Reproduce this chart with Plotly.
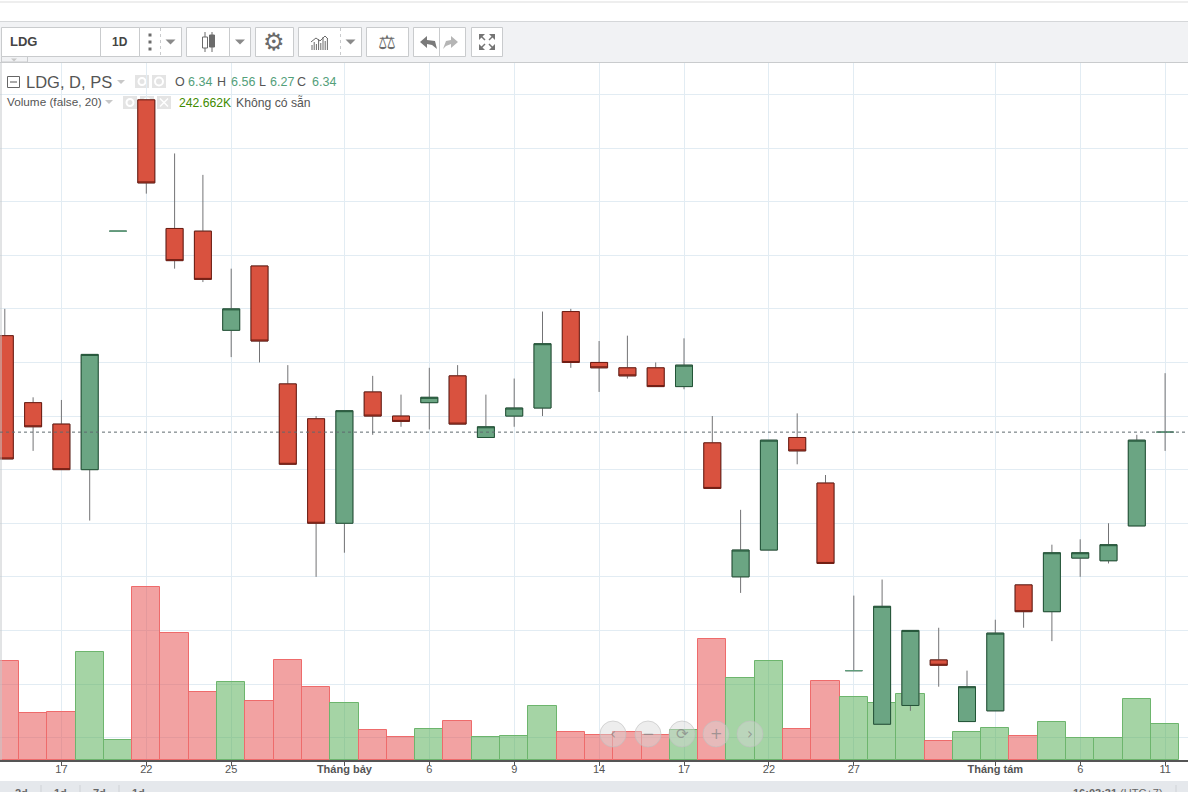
import plotly.graph_objects as go

W, H = 1188, 792

tick_pos = [2, 5, 8, 12, 15, 18, 21, 24, 27, 30, 35, 38, 41]
tick_labels = ["17", "22", "25", "<b>Tháng bảy</b>", "6", "9", "14", "17", "22", "27",
               "<b>Tháng tám</b>", "6", "11"]

opens = [6.70, 6.45, 6.37, 6.20, 7.09, 7.58, 7.10, 7.09, 6.72, 6.96, 6.52, 6.39, 6.00, 6.49,
         6.40, 6.45, 6.55, 6.32, 6.40, 6.43, 6.79, 6.60, 6.58, 6.58, 6.51, 6.30, 5.80, 5.90,
         6.32, 6.15, 5.45, 5.25, 5.32, 5.49, 5.26, 5.30, 5.77, 5.67, 5.87, 5.86, 5.99, 6.34]
highs = [6.80, 6.47, 6.46, 6.63, 7.09, 7.58, 7.38, 7.30, 6.95, 6.96, 6.59, 6.40, 6.42, 6.55,
         6.48, 6.58, 6.59, 6.48, 6.54, 6.79, 6.80, 6.68, 6.70, 6.60, 6.69, 6.40, 6.05, 6.31,
         6.41, 6.18, 5.73, 5.79, 5.60, 5.61, 5.45, 5.64, 5.77, 5.92, 5.94, 6.00, 6.33, 6.56]
lows = [6.24, 6.27, 6.20, 6.01, 7.09, 7.23, 6.95, 6.90, 6.62, 6.60, 6.22, 5.80, 5.89, 6.33,
        6.36, 6.35, 6.37, 6.32, 6.36, 6.40, 6.58, 6.49, 6.54, 6.51, 6.50, 6.13, 5.74, 5.90,
        6.22, 5.85, 5.45, 5.25, 5.30, 5.39, 5.26, 5.30, 5.61, 5.56, 5.80, 5.85, 5.99, 6.27]
closes = [6.24, 6.36, 6.20, 6.63, 7.09, 7.27, 6.98, 6.91, 6.80, 6.68, 6.22, 6.00, 6.42, 6.40,
          6.38, 6.47, 6.37, 6.36, 6.43, 6.67, 6.60, 6.58, 6.55, 6.51, 6.59, 6.13, 5.90, 6.31,
          6.27, 5.85, 5.45, 5.69, 5.60, 5.47, 5.39, 5.59, 5.67, 5.89, 5.89, 5.92, 6.31, 6.34]
volumes_k = [667, 317, 324, 728, 135, 1166, 856, 458, 526, 398, 674, 492, 384, 202, 155, 209,
             263, 155, 162, 364, 189, 169, 189, 169, 202, 816, 553, 667, 209, 532, 425, 384,
             445, 128, 189, 216, 162, 256, 148, 148, 411, 242.662]
sessions = list(range(len(closes)))
last_close = closes[-1]
is_doji = [o == c for o, c in zip(opens, closes)]
real = [i for i in sessions if not is_doji[i]]
doji = [i for i in sessions if is_doji[i]]


def pick(seq, idx):
    return [seq[i] for i in idx]


GRID = "#e2ecf3"
RED, RED_D = "#d9523f", "#6e1c12"
GRN, GRN_D = "#6ba583", "#225437"
UI = "#c9cbcd"
TXT = "#555555"
ICON = "#6b6b6b"
FONT = "Liberation Sans"
STEP = 28.3
LEFT = 4.8

is_up = [c >= o for o, c in zip(opens, closes)]
fig = go.Figure()
fig.add_bar(x=sessions, y=volumes_k, yaxis="y", width=1,
            marker=dict(color=["rgba(76,170,76,0.5)" if u else "rgba(230,70,70,0.5)" for u in is_up],
                        line=dict(color=["#6db56d" if u else "#ee6b6b" for u in is_up], width=1)),
            hoverinfo="skip", showlegend=False)
# wicks
wick = dict(line=dict(color="#737375", width=1), fillcolor="rgba(0,0,0,0)")
fig.add_candlestick(x=sessions, open=opens, high=highs, low=lows, close=closes, yaxis="y2",
                    whiskerwidth=0, showlegend=False, hoverinfo="skip", increasing=wick, decreasing=wick)
# bodies
fig.add_candlestick(x=real, open=pick(opens, real), close=pick(closes, real),
                    high=[max(opens[i], closes[i]) for i in real],
                    low=[min(opens[i], closes[i]) for i in real], yaxis="y2",
                    whiskerwidth=0, showlegend=False, hoverinfo="skip",
                    increasing=dict(line=dict(color=GRN_D, width=1), fillcolor=GRN),
                    decreasing=dict(line=dict(color=RED_D, width=1), fillcolor=RED))
# bodies with open equal to close: a single thin line
flat = dict(line=dict(color="#5f9d7c", width=1), fillcolor=GRN)
fig.add_candlestick(x=doji, open=pick(opens, doji), close=pick(closes, doji), high=pick(closes, doji),
                    low=pick(closes, doji), yaxis="y2", whiskerwidth=0, showlegend=False, hoverinfo="skip",
                    increasing=flat, decreasing=flat)


def X(x):
    return x / W


def Y(y):
    return 1 - y / H


shapes = []
annos = []


def rect(x0, y0, x1, y1, fill="white", line=None, lw=1, layer="above"):
    shapes.append(dict(type="rect", xref="paper", yref="paper", x0=X(x0), x1=X(x1), y0=Y(y0), y1=Y(y1),
                       fillcolor=fill, line=dict(color=line or "rgba(0,0,0,0)", width=lw if line else 0),
                       layer=layer))


def seg(x0, y0, x1, y1, color=UI, lw=1, dash=None, layer="above"):
    shapes.append(dict(type="line", xref="paper", yref="paper", x0=X(x0), x1=X(x1), y0=Y(y0), y1=Y(y1),
                       line=dict(color=color, width=lw, dash=dash or "solid"), layer=layer))


def poly(pts, fill=ICON, close=True, line=None, lw=1):
    d = "M " + " L ".join(f"{X(a):.5f} {Y(b):.5f}" for a, b in pts) + (" Z" if close else "")
    shapes.append(dict(type="path", xref="paper", yref="paper", path=d,
                       fillcolor=fill if close else "rgba(0,0,0,0)",
                       line=dict(color=line or "rgba(0,0,0,0)", width=lw if line else 0)))


def circle(cx, cy, r, fill, line, lw=1, layer="above"):
    shapes.append(dict(type="circle", xref="paper", yref="paper", x0=X(cx - r), x1=X(cx + r),
                       y0=Y(cy + r), y1=Y(cy - r), fillcolor=fill, line=dict(color=line, width=lw),
                       layer=layer))


def text(x, y, s, size=12, color=TXT, anchor="left", family=FONT):
    annos.append(dict(xref="paper", yref="paper", x=X(x - 1 if anchor == "left" else x), y=Y(y), text=s,
                      showarrow=False, xanchor=anchor, yanchor="middle", borderpad=0,
                      font=dict(size=size, color=color, family=family)))


def caret(cx, cy, w=5, h=5, color="#8a8a8a"):
    poly([(cx - w, cy - h / 2), (cx + w, cy - h / 2), (cx, cy + h / 2)], fill=color)


def small_box(a, top, bottom, kind, layer):
    rect(a, top, a + 14, bottom, "#e4e4e4", layer=layer)
    cx, cy = a + 7, (top + bottom) / 2
    if kind == "x":
        seg(cx - 4, cy - 4, cx + 4, cy + 4, "white", 1.5, layer=layer)
        seg(cx - 4, cy + 4, cx + 4, cy - 4, "white", 1.5, layer=layer)
    else:
        circle(cx, cy, 3.5 if kind == "eye" else 4, "rgba(0,0,0,0)", "white", 2, layer=layer)


# --- chrome bands
seg(0, 2, W, 2, "#dddddd")
rect(0, 22, W, 62, "#f1f2f4", layer="below")
seg(0, 21.5, W, 21.5, "#d5d7d9")
seg(0, 62.5, W, 62.5, UI)
rect(0, 781, W, H, "#e5e8ec", layer="below")
seg(1, 63, 1, 760, "#c5c8cb")

# --- toolbar buttons
for a, b in [(1, 100), (100, 139), (139, 181), (186, 229), (229, 250), (255, 293), (298, 361), (366, 408),
             (413, 439), (439, 465), (471, 502)]:
    rect(a + .5, 27.5, b + .5, 56.5, "white", UI)
seg(160.5, 28, 160.5, 56, UI, 1, "dot")
seg(340.5, 28, 340.5, 56, UI, 1, "dot")
rect(1.5, 56.5, 27.5, 62, "#f1f2f4", UI)
caret(14, 60, 3, 3, "#c8c8c8")
text(9.5, 42, "<b>LDG</b>", 13, "#444444")
text(120, 42, "<b>1D</b>", 12, "#444444", "center")
for cy in (35, 42, 49):
    rect(148.5, cy - 1.5, 151.5, cy + 1.5, ICON)
caret(170.5, 42)
caret(240, 42)
caret(350.5, 42)
# candle icon
seg(205, 32, 205, 52, ICON)
rect(202.5, 37, 207.5, 48, "white", ICON)
seg(212, 32, 212, 52, ICON)
rect(209.5, 35, 214.5, 47, ICON, ICON)
# gear and balance as glyphs
text(274, 42, "⚙", 24, ICON, "center", "DejaVu Sans")
text(387, 42, "⚖", 20, ICON, "center", "DejaVu Sans")
# indicator icon
for i, h in enumerate([5, 8, 6, 11, 7, 13, 9, 12]):
    seg(312 + i * 2.2, 50, 312 + i * 2.2, 50 - h, ICON, 1)
poly([(311, 42), (316, 38), (320, 41), (325, 36), (328, 39)], close=False, line=ICON, lw=1)
# undo / redo
poly([(420, 42), (427, 36), (427, 40), (435, 41), (437, 49), (432, 45), (427, 44), (427, 48)], fill="#7a7a7a")
poly([(458, 42), (451, 36), (451, 40), (446, 41), (443, 49), (446, 46), (451, 44), (451, 48)], fill="#b5b5b5")
# fullscreen
for cx, cy, sx, sy in [(480, 35, 1, 1), (494, 35, -1, 1), (480, 49, 1, -1), (494, 49, -1, -1)]:
    poly([(cx - sx, cy - sy), (cx + 5 * sx, cy - sy), (cx - sx, cy + 5 * sy)], fill="#757575")
    seg(cx, cy, cx + 5 * sx, cy + 5 * sy, "#757575", 1.5)

# --- legend
rect(7.5, 76.5, 19.5, 87.5, "white", "#666666")
seg(10, 82, 17, 82, "#555555")
text(26, 82, "LDG, D, PS", 16.5, TXT)
caret(121, 82, 4, 4, "#c8c8c8")
small_box(135, 75, 88, "eye", "below")
small_box(152, 75, 88, "gear", "below")
text(175, 82, "O", 12.5)
text(188, 82, "6.34", 12.5, "#53a07a")
text(217, 82, "H", 12.5)
text(231, 82, "6.56", 12.5, "#53a07a")
text(259, 82, "L", 12.5)
text(270, 82, "6.27", 12.5, "#53a07a")
text(297, 82, "C", 12.5)
text(312, 82, "6.34", 12.5, "#53a07a")
text(7, 101.5, "Volume (false, 20)", 11.75, TXT)
caret(109, 102, 4, 4, "#c8c8c8")
small_box(123, 96, 109, "eye", "below")
small_box(140, 96, 109, "gear", "below")
small_box(157, 96, 109, "x", "below")
text(179, 102.5, "242.662K", 12.2, "#3f8b00")
text(236, 102.5, "Không có sẵn", 12.2, TXT)

# --- nav buttons
for cx, s in zip((613, 648, 682, 716, 750), ("‹", "−", "⟳", "+", "›")):
    circle(cx, 734, 13, "rgba(215,215,215,0.45)", "rgba(190,190,190,0.6)")
    text(cx, 734, s, 15, "rgba(130,130,130,0.7)", "center", "DejaVu Sans")

# --- footer
for x, s in zip((21, 60, 99, 138), ("2d", "1d", "7d", "1d")):
    text(x, 793, f"<b>{s}</b>", 11, "#666666", "center")
for x in (41, 80, 119, 1176):
    seg(x, 785, x, 792, "#cfd2d6")
text(1118, 793, "<b>16:03:31</b> (UTC+7)", 11, "#666666", "center")

# last price line
shapes.append(dict(type="line", xref="paper", yref="y2", x0=0, x1=1, y0=last_close, y1=last_close,
                   line=dict(color="#5f6a6f", width=1, dash="dot")))

fig.update_layout(
    width=W, height=H, autosize=False,
    margin=dict(l=0, r=0, t=0, b=0),
    paper_bgcolor="white", plot_bgcolor="rgba(0,0,0,0)",
    bargap=0, boxgap=0.4, boxgroupgap=0, boxmode="overlay",
    showlegend=False,
    font=dict(family=FONT, color=TXT, size=11),
    xaxis=dict(range=[-LEFT / STEP, (W - LEFT) / STEP], domain=[0, 1], tickmode="array", tickvals=tick_pos,
               ticktext=tick_labels, showgrid=True, gridcolor=GRID, gridwidth=1, zeroline=False,
               showline=True, linecolor="#555555", linewidth=1.5, ticks="outside", ticklen=4,
               tickcolor="#555555", tickfont=dict(size=11, color=TXT, family=FONT),
               ticklabelstandoff=-6, rangeslider=dict(visible=False), anchor="y"),
    yaxis=dict(domain=[1 - 760 / H, 1 - 63 / H], range=[-2.5, 4695], showgrid=False, zeroline=False,
               showticklabels=False, ticks=""),
    yaxis2=dict(domain=[1 - 760 / H, 1 - 63 / H], range=[5.1165, 7.7175], overlaying="y", side="right",
                tickmode="linear", tick0=5.2, dtick=0.2, showgrid=True, gridcolor=GRID, gridwidth=1,
                zeroline=False, showticklabels=False, ticks=""),
    shapes=shapes, annotations=annos,
)

fig.write_html("out.html", config=dict(displayModeBar=False),
               post_script="document.body.style.margin='0';document.documentElement.style.overflow='hidden';")
